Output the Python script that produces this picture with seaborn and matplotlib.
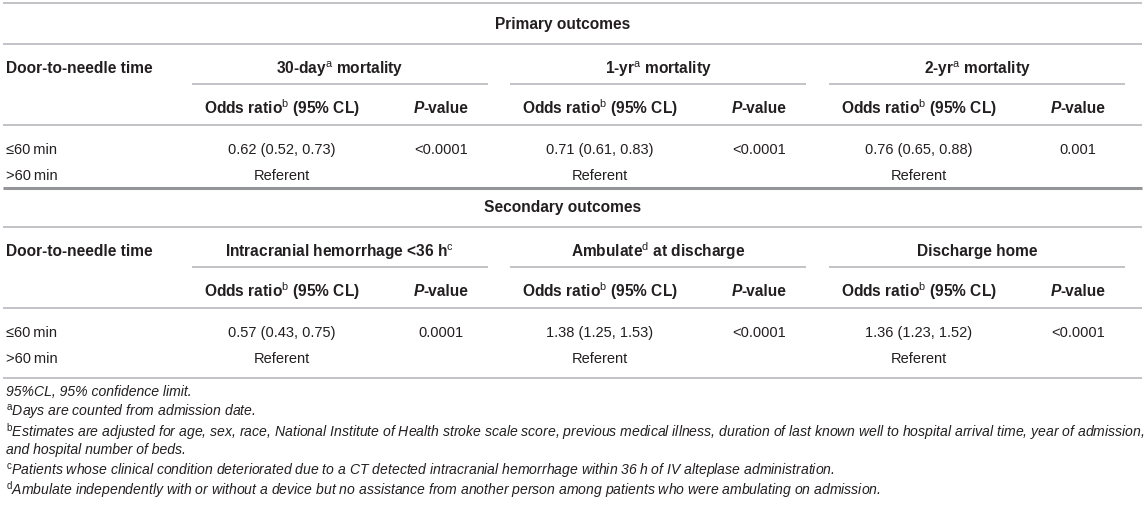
import matplotlib
matplotlib.use("Agg")
import matplotlib.pyplot as plt
import seaborn as sns

# ---------------- data ----------------
row_labels = ["\u226460\u2009min", ">60\u2009min"]
stub_header = "Door-to-needle time"

primary_title = "Primary outcomes"
primary_groups = [r"30-day$^{\mathrm{a}}$ mortality",
                  r"1-yr$^{\mathrm{a}}$ mortality",
                  r"2-yr$^{\mathrm{a}}$ mortality"]
primary_or = ["0.62 (0.52, 0.73)", "0.71 (0.61, 0.83)", "0.76 (0.65, 0.88)"]
primary_p = ["<0.0001", "<0.0001", "0.001"]

secondary_title = "Secondary outcomes"
secondary_groups = [r"Intracranial hemorrhage <36 h$^{\mathrm{c}}$",
                    r"Ambulate$^{\mathrm{d}}$ at discharge",
                    "Discharge home"]
secondary_or = ["0.57 (0.43, 0.75)", "1.38 (1.25, 1.53)", "1.36 (1.23, 1.52)"]
secondary_p = ["0.0001", "<0.0001", "<0.0001"]

sub_or = r"Odds ratio$^{\mathrm{b}}$ (95% CL)"
sub_p_parts = ["P", "-value"]
referent = "Referent"

footnotes = [
    "95%CL, 95% confidence limit.",
    r"$^{\mathrm{a}}$" + "Days are counted from admission date.",
    r"$^{\mathrm{b}}$" + "Estimates are adjusted for age, sex, race, National Institute of Health stroke scale score, previous medical illness, duration of last known well to hospital arrival time, year of admission,",
    "and hospital number of beds.",
    r"$^{\mathrm{c}}$" + "Patients whose clinical condition deteriorated due to a CT detected intracranial hemorrhage within 36\u2009h of IV alteplase administration.",
    r"$^{\mathrm{d}}$" + "Ambulate independently with or without a device but no assistance from another person among patients who were ambulating on admission.",
]

# ---------------- style ----------------
sns.set_theme(style="white")
plt.rcParams["font.family"] = ["Liberation Sans", "DejaVu Sans"]
plt.rcParams["mathtext.fontset"] = "custom"
plt.rcParams["mathtext.rm"] = "Liberation Sans"
plt.rcParams["mathtext.it"] = "Liberation Sans:italic"
plt.rcParams["mathtext.bf"] = "Liberation Sans:bold"

TXT = "#231f20"
LINE = "#b1b3b6"
THICK = "#939598"
HDR = 11.2
BODY = 10.5
FOOT = 10.05
HDR_B = 5.6     # baseline offset from visual centre (px)
BODY_B = 5.2
FOOT_B = 5.0
MATH_FIX = 1.5  # mathtext strings sit slightly high

W, H = 1146, 506
fig = plt.figure(figsize=(W / 100, H / 100), dpi=100)
ax = fig.add_axes([0, 0, 1, 1])
ax.set_xlim(0, W)
ax.set_ylim(H, 0)
ax.axis("off")
renderer = fig.canvas.get_renderer()

label_x = 6
line_x0, line_x1 = 3, 1142
group_starts = [192, 510, 829]
group_len = 296
or_off, p_off, hdr_off = 90, 249, 148
title_x = 563


def mfix(s):
    return MATH_FIX if "$" in s else 0.0


def full_line(y, lw=1.1, color=LINE):
    ax.hlines(y, line_x0, line_x1, colors=color, linewidth=lw)


def htext(x, y, s, ha="center", style="normal"):
    return ax.text(x, y + HDR_B + mfix(s), s, ha=ha, va="baseline",
                   fontsize=HDR, fontweight="bold", fontstyle=style, color=TXT)


def btext(x, y, s, ha="center"):
    ax.text(x, y + BODY_B, s, ha=ha, va="baseline", fontsize=BODY, color=TXT)


def p_header(xc, y):
    t1 = htext(0, y, sub_p_parts[0], ha="left", style="italic")
    t2 = htext(0, y, sub_p_parts[1], ha="left")
    w1 = t1.get_window_extent(renderer).width
    w2 = t2.get_window_extent(renderer).width
    x0 = xc - (w1 + w2) / 2
    t1.set_x(x0)
    t2.set_x(x0 + w1)


def block(y0, title, groups, ors, ps, bottom_gap):
    htext(title_x, y0 + 19, title)
    full_line(y0 + 41)
    yh = y0 + 63
    htext(label_x, yh, stub_header, ha="left")
    for gs, g in zip(group_starts, groups):
        htext(gs + hdr_off, yh, g)
        ax.hlines(yh + 18, gs, gs + group_len, colors=LINE, linewidth=1.1)
        htext(gs + or_off, yh + 40, sub_or)
        p_header(gs + p_off, yh + 40)
    yl = yh + 59
    full_line(yl)
    y1, y2 = yl + 23, yl + 49
    btext(label_x, y1, row_labels[0], ha="left")
    btext(label_x, y2, row_labels[1], ha="left")
    for gs, o, p in zip(group_starts, ors, ps):
        btext(gs + or_off, y1, o)
        btext(gs + p_off, y1, p)
        btext(gs + or_off, y2, referent)
    return y2 + bottom_gap


full_line(4)
yb = block(4, primary_title, primary_groups, primary_or, primary_p, 14)
full_line(yb, lw=2.2, color=THICK)
yb2 = block(yb - 2, secondary_title, secondary_groups, secondary_or,
            secondary_p, 21)
full_line(yb2)

fy = yb2 + 12
for i, fn in enumerate(footnotes):
    ax.text(label_x, fy + i * 19.5 + FOOT_B + mfix(fn), fn, ha="left",
            va="baseline", fontsize=FOOT, fontstyle="italic", color=TXT)

fig.savefig("out.png", dpi=100)
